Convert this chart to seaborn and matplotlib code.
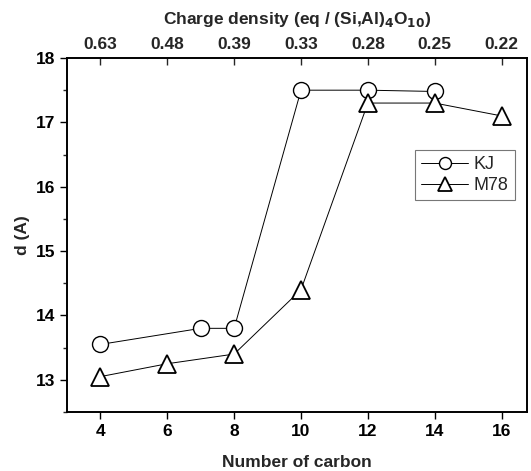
import matplotlib
matplotlib.use("Agg")
import matplotlib.pyplot as plt
import seaborn as sns
import pandas as pd
from matplotlib.ticker import MultipleLocator

sns.set_theme(style="ticks")
plt.rcParams['font.family'] = ['Liberation Sans', 'DejaVu Sans']
plt.rcParams['font.weight'] = 'bold'

kj_x = [4, 7, 8, 10, 12, 14]
kj_y = [13.55, 13.8, 13.8, 17.5, 17.5, 17.48]
m78_x = [4, 6, 8, 10, 12, 14, 16]
m78_y = [13.05, 13.25, 13.4, 14.4, 17.3, 17.3, 17.1]
top_ticks = [4, 6, 8, 10, 12, 14, 16]
top_labels = ["0.63", "0.48", "0.39", "0.33", "0.28", "0.25", "0.22"]

FS = 12.5

fig = plt.figure(figsize=(5.31, 4.71), dpi=100)
ax = fig.add_axes([67/531, 1-412/471, (527-67)/531, (412-58)/471])

df_kj = pd.DataFrame({"x": kj_x, "y": kj_y})
df_m = pd.DataFrame({"x": m78_x, "y": m78_y})
sns.lineplot(data=df_kj, x="x", y="y", ax=ax, color="black", lw=0.7,
             marker="o", markersize=11.5, markerfacecolor="white",
             markeredgecolor="black", markeredgewidth=1.0, label="KJ")
sns.lineplot(data=df_m, x="x", y="y", ax=ax, color="black", lw=0.7,
             marker="^", markersize=12.5, markerfacecolor="white",
             markeredgecolor="black", markeredgewidth=1.3, label="M78")

ax.set_xlim(3, 16.76)
ax.set_ylim(12.5, 18)
ax.set_xticks([4, 6, 8, 10, 12, 14, 16])
ax.yaxis.set_major_locator(MultipleLocator(1))
ax.yaxis.set_minor_locator(MultipleLocator(0.5))
ax.tick_params(axis='both', which='major', direction='out', length=5, width=1,
               labelsize=FS, colors='black')
ax.tick_params(axis='y', which='minor', direction='out', length=3, width=1)
for lab in ax.get_xticklabels() + ax.get_yticklabels():
    lab.set_fontweight('bold')
for s in ax.spines.values():
    s.set_linewidth(1.2)
    s.set_color('black')

ax.set_xlabel("Number of carbon", fontsize=FS, fontweight='bold', labelpad=12)
ax.set_ylabel("d (A)", fontsize=FS, fontweight='bold', labelpad=4)

ax2 = ax.twiny()
ax2.set_xlim(ax.get_xlim())
ax2.set_xticks(top_ticks)
ax2.set_xticklabels(top_labels, fontweight='bold')
ax2.tick_params(axis='x', direction='in', length=5, width=1, labelsize=FS, pad=4)
for s in ax2.spines.values():
    s.set_linewidth(1.2)
    s.set_color('black')
ax2.set_xlabel(r"Charge density (eq / (Si,Al)$_\mathbf{4}$O$_\mathbf{10}$)",
               fontsize=FS, fontweight='bold', labelpad=10)

leg = ax.legend(loc='upper left', bbox_to_anchor=((415-67)/460, 1-(150-58)/354),
                frameon=True, fancybox=False, fontsize=13, handlelength=2.6,
                borderpad=0.35, handletextpad=0.3, labelspacing=0.2,
                markerscale=0.75, borderaxespad=0)
leg.get_frame().set_edgecolor('#555555')
leg.get_frame().set_linewidth(0.8)
for t in leg.get_texts():
    t.set_fontweight('normal')

fig.savefig("out.png", dpi=100)
